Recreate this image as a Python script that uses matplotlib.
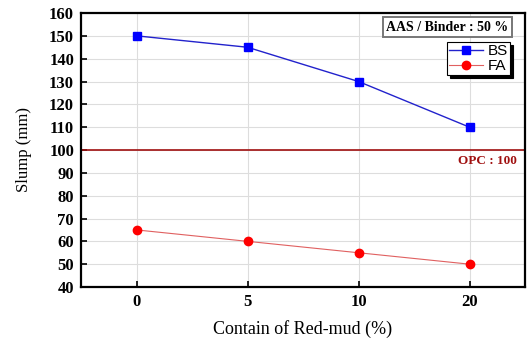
import numpy as np
import matplotlib.pyplot as plt

categories = ['0', '5', '10', '20']
bs_values = [150, 145, 130, 110]
fa_values = [65, 60, 55, 50]
opc_value = 100
y_ticks = list(range(40, 161, 10))

serif = ['Liberation Serif', 'DejaVu Serif']

fig = plt.figure(figsize=(5.27, 3.44), dpi=100)
ax = fig.add_axes([81 / 527, 1 - 287 / 344, (525 - 81) / 527, (287 - 13) / 344])

x = np.arange(len(categories))
ax.plot(x, bs_values, color='#2222cc', lw=1.0, marker='s', ms=5.5,
        mfc='#0000ff', mec='#0000ff', label='BS', zorder=3)
ax.plot(x, fa_values, color='#e06060', lw=0.8, marker='o', ms=6,
        mfc='#ff0000', mec='#ff0000', label='FA', zorder=3)
ax.axhline(opc_value, color='#a01010', lw=1.2, zorder=2)
ax.text(3.43, opc_value - 2.2, 'OPC : 100', color='#a01010', fontsize=9.5,
        fontweight='bold', family=serif, ha='right', va='top')

ax.set_xlim(-0.5, 3.5)
ax.set_ylim(40, 160)
ax.set_xticks(x)
ax.set_xticklabels(categories)
ax.set_yticks(y_ticks)
ax.grid(True, color='#dddddd', lw=0.8, zorder=0)
ax.set_axisbelow(True)
for s in ax.spines.values():
    s.set_linewidth(1.6)
ax.tick_params(direction='in', length=4, width=1.2, labelsize=12, pad=5)
for lbl in ax.get_xticklabels() + ax.get_yticklabels():
    lbl.set_fontfamily(serif)
    lbl.set_fontweight('bold')

ax.set_xlabel('Contain of Red-mud (%)', fontsize=13, family=serif, labelpad=7)
ax.set_ylabel('Slump (mm)', fontsize=12, family=serif, labelpad=12)

leg = ax.legend(loc='upper right', bbox_to_anchor=(0.966, 0.894),
                prop={'family': ['Liberation Sans', 'DejaVu Sans'], 'size': 11},
                frameon=True, fancybox=False, shadow={'color': 'black', 'alpha': 1},
                handlelength=2.2, handletextpad=0.3, borderpad=0.15, labelspacing=0.05,
                borderaxespad=0)
leg.get_frame().set_edgecolor('black')
leg.get_frame().set_linewidth(0.8)

ax.text(0.962, 0.972, 'AAS / Binder : 50 %', transform=ax.transAxes, ha='right', va='top',
        fontsize=10, fontweight='bold', family=serif,
        bbox=dict(boxstyle='square,pad=0.25', fc='white', ec='#777777', lw=1.4))

fig.savefig('out.png', dpi=100)
